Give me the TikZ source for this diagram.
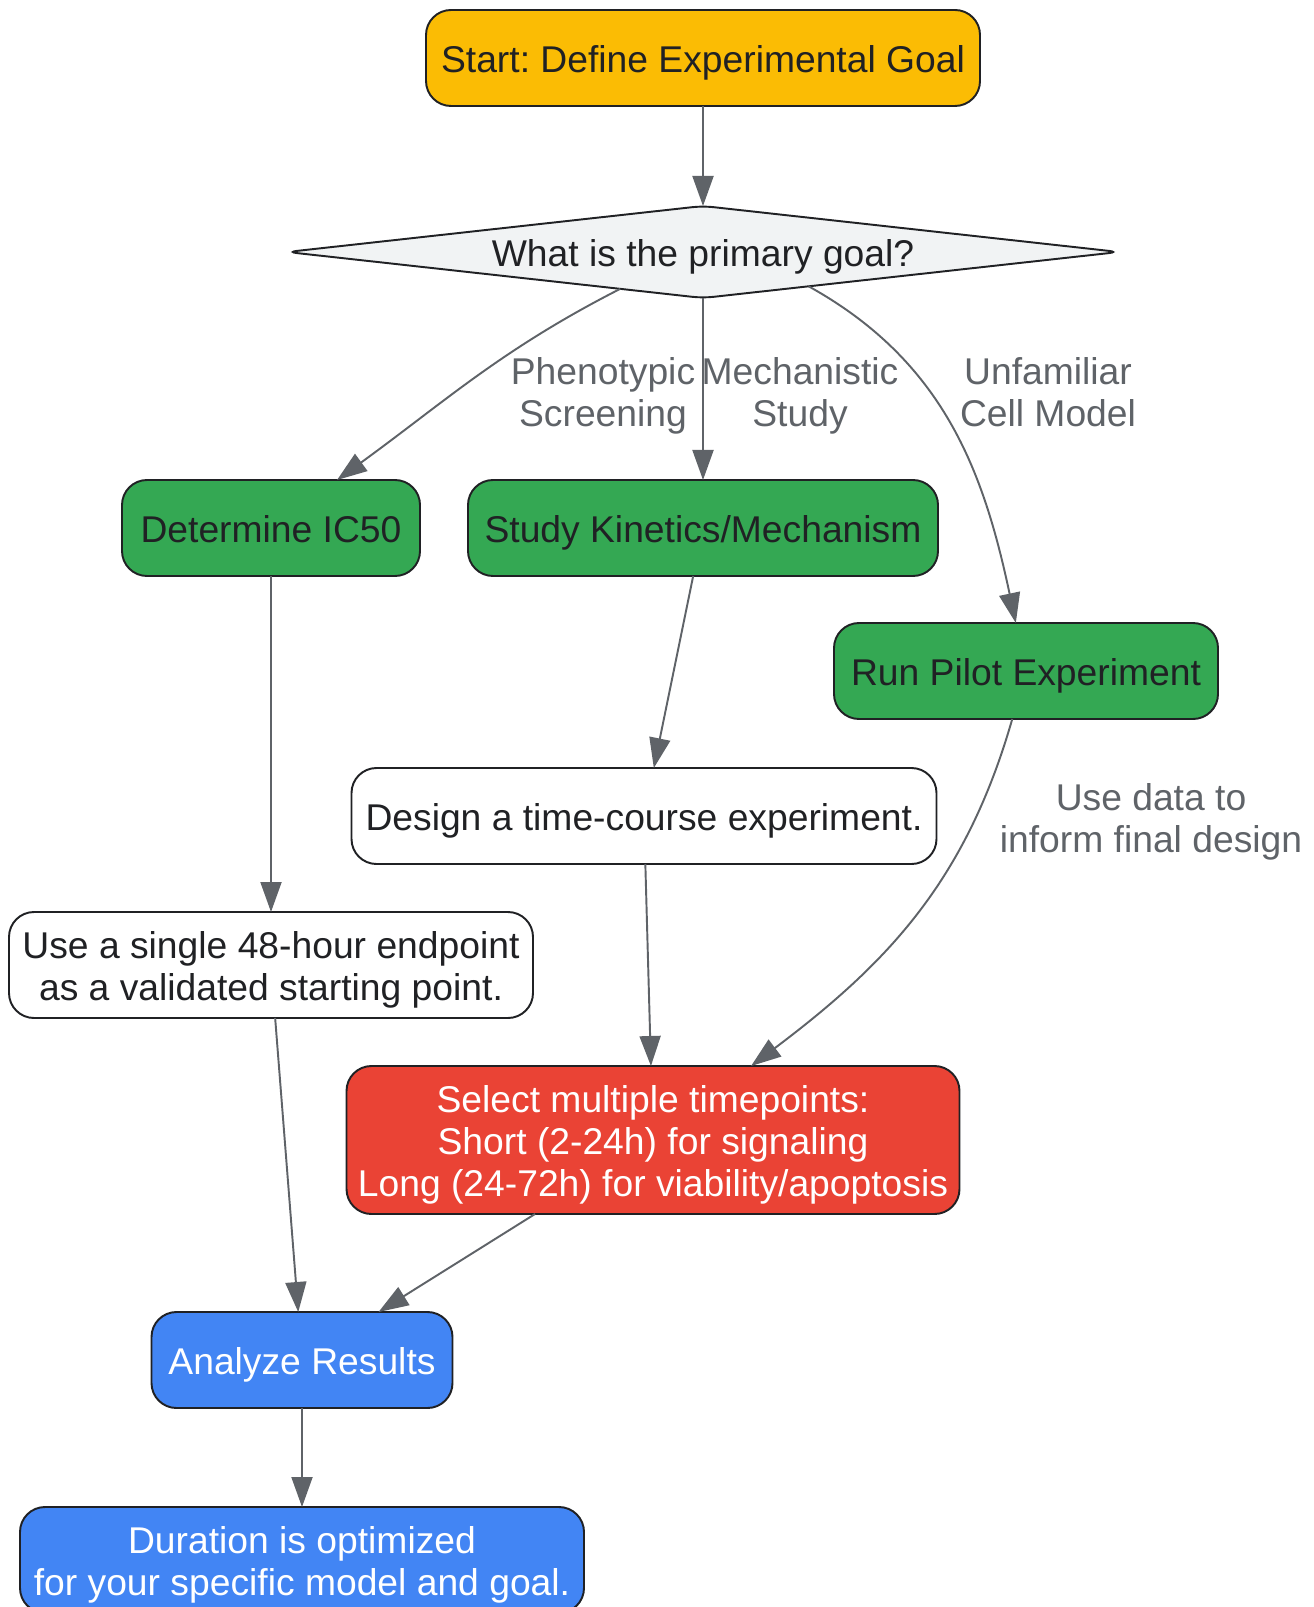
\documentclass[tikz,border=0pt]{standalone}
\usepackage{fontspec}
\setmainfont{Liberation Sans}
\usepackage{xcolor}
\usepackage{tikz}
\usetikzlibrary{shapes.geometric, arrows.meta, positioning}
\definecolor{goalyellow}{RGB}{251, 188, 4}
\definecolor{stepgreen}{RGB}{52, 168, 83}
\definecolor{keyred}{RGB}{234, 67, 53}
\definecolor{resultblue}{RGB}{66, 133, 244}
\definecolor{decisiongray}{RGB}{241, 243, 244}
\definecolor{darktext}{RGB}{32, 33, 36}
\definecolor{edgegray}{RGB}{95, 99, 104}
\newcommand{\nodefont}{\fontsize{21.2pt}{23.9pt}\selectfont}
\frenchspacing

\begin{document}
\begin{tikzpicture}[
    box/.style={rectangle, draw=darktext, line width=1.1pt, fill=white, rounded corners=0.5cm,
                minimum height=1.92cm, inner xsep=0.2cm, inner ysep=0.1cm, outer sep=0pt,
                text height=0.74cm, text depth=0.16cm, align=center, text=darktext, font=\nodefont},
    twolines/.style={text height=1.58cm},
    threelines/.style={text height=2.42cm},
    decision/.style={diamond, draw=darktext, line width=1.1pt, fill=decisiongray, aspect=9.1,
                inner sep=0pt, outer sep=0pt, minimum width=16.53cm, minimum height=1.84cm,
                rounded corners=0.2cm, text height=0.74cm, text depth=0.16cm,
                text=darktext, font=\nodefont},
    lbl/.style={align=center, text=edgegray, text height=1.58cm, text depth=0.16cm, font=\nodefont},
    arrow/.style={-{Triangle[length=0.6cm, width=0.42cm]}, line width=1.1pt, edgegray}
]
\useasboundingbox (0,0) rectangle (26.26,-32.14);

% Start
\node[box, fill=goalyellow, minimum width=11.08cm] (start) at (14.06,-1.16) {Start: Define Experimental Goal};

% Decision
\node[decision, below=2cm of start] (goal) {What is the primary goal?};

% Branches
\node[box, fill=stepgreen, minimum width=9.4cm, below=3.64cm of goal] (kinetics) {Study Kinetics/Mechanism};
\node[box, fill=stepgreen, minimum width=5.96cm, below=3.64cm of goal, xshift=-8.64cm] (ic50) {Determine IC50};
\node[box, fill=stepgreen, minimum width=7.68cm, below=0.94cm of kinetics, xshift=6.46cm] (pilot) {Run Pilot Experiment};

% Design
\node[box, minimum width=11.7cm, below=3.84cm of kinetics, xshift=-1.18cm] (design) {Design a time-course experiment.};
\node[box, twolines, minimum width=10.48cm, minimum height=2.12cm, below=6.72cm of ic50] (single) {Use a single 48-hour endpoint\\as a validated starting point.};
\node[box, threelines, fill=keyred, text=white, minimum width=12.26cm, minimum height=2.96cm, below=4.04cm of design, xshift=0.18cm] (select) {Select multiple timepoints:\\Short (2-24h) for signaling\\Long (24-72h) for viability/apoptosis};

% Results
\node[box, fill=resultblue, text=white, minimum width=6.02cm, below=1.96cm of select, xshift=-7.02cm] (analyze) {Analyze Results};
\node[box, twolines, fill=resultblue, text=white, minimum width=11.28cm, minimum height=2.12cm, below=1.98cm of analyze] (done) {Duration is optimized\\for your specific model and goal.};

% Edge labels
\node[lbl] (lphen) at ([xshift=-2cm, yshift=-2.78cm]goal) {Phenotypic\\Screening};
\node[lbl] (lmech) at ([xshift=1.94cm, yshift=-2.78cm]goal) {Mechanistic\\Study};
\node[lbl] (lcell) at ([xshift=6.9cm, yshift=-2.78cm]goal) {Unfamiliar\\Cell Model};
\node[lbl] (ldata) at ([xshift=2.5cm, yshift=-2.92cm]pilot) {Use data to\\inform final design};

% Arrows
\draw[arrow] (start) -- (goal);
\draw[arrow] (goal.204) to[out=207, in=36] (ic50);
\draw[arrow] (goal) -- (kinetics);
\draw[arrow] (goal.-18) to[out=-29, in=102] (pilot);

\draw[arrow] (ic50) -- (single);
\draw[arrow] (kinetics) -- (design);
\draw[arrow] (design) -- (select);
\draw[arrow] (pilot) to[out=254, in=37] (select);

\draw[arrow] (single) -- (analyze);
\draw[arrow] (select) -- (analyze);
\draw[arrow] (analyze) -- (done);

\end{tikzpicture}
\end{document}
